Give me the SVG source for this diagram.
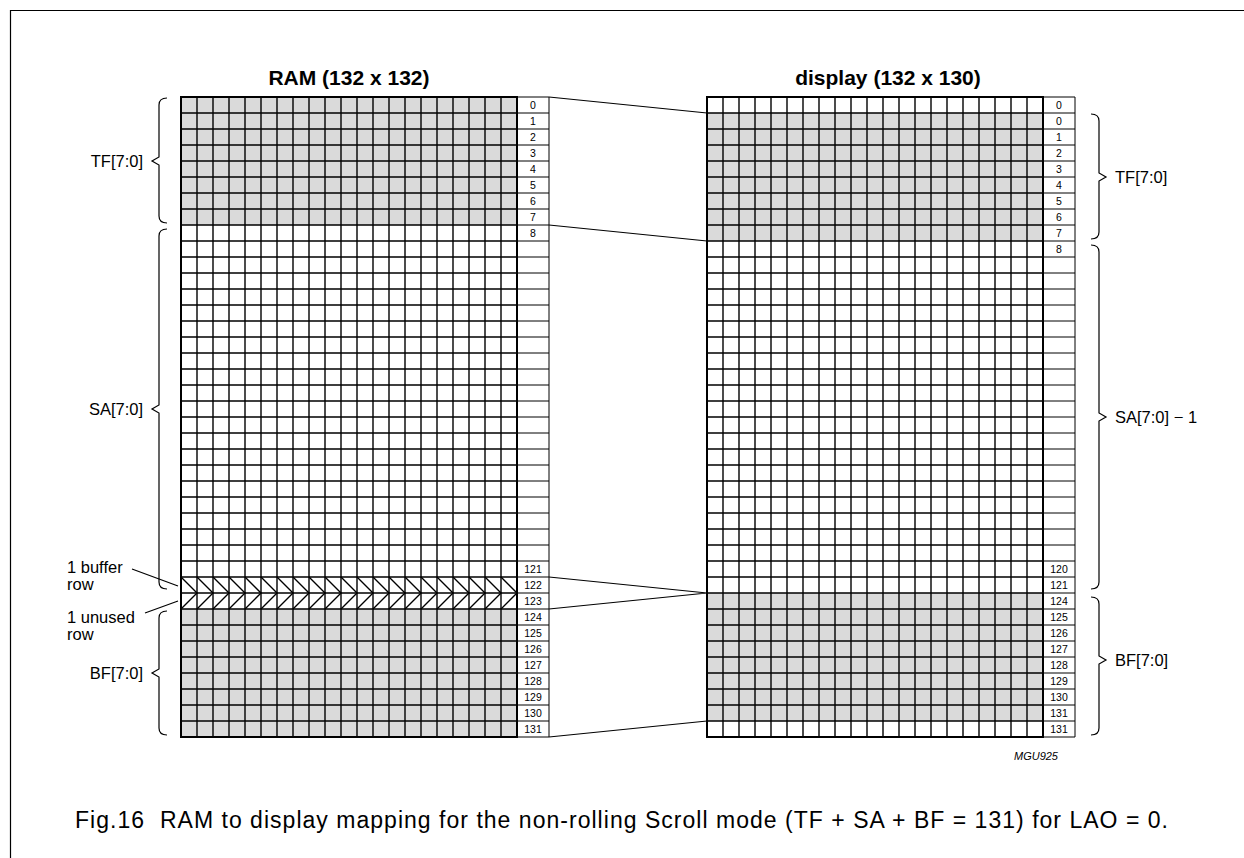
<svg xmlns="http://www.w3.org/2000/svg" xmlns:xlink="http://www.w3.org/1999/xlink" width="1244" height="858" viewBox="0 0 1244 858">
<style>
text{font-family:"Liberation Sans",Arial,sans-serif;fill:#000}
.title{font-size:21px;font-weight:bold;text-anchor:middle}
.lbl{font-size:16.5px}
.num{font-size:10.5px;text-anchor:middle}
.gray{fill:#dadada;stroke:none}
.grid{fill:none;stroke:#000;stroke-width:1.4}
.lcol{fill:none;stroke:#000;stroke-width:1}
.brace{fill:none;stroke:#000;stroke-width:1.2}
.conn{fill:none;stroke:#000;stroke-width:1.2}
.chev{fill:none;stroke:#000;stroke-width:1.4}
.cap{font-size:23px;white-space:pre}
</style>
<defs>
<g id="gridlines">
<path class="grid" d="M0 0V640M16 0V640M32 0V640M48 0V640M64 0V640M80 0V640M96 0V640M112 0V640M128 0V640M144 0V640M160 0V640M176 0V640M192 0V640M208 0V640M224 0V640M240 0V640M256 0V640M272 0V640M288 0V640M304 0V640M320 0V640M336 0V640"/>
<path class="grid" d="M0 0H336M0 16H336M0 32H336M0 48H336M0 64H336M0 80H336M0 96H336M0 112H336M0 128H336M0 144H336M0 160H336M0 176H336M0 192H336M0 208H336M0 224H336M0 240H336M0 256H336M0 272H336M0 288H336M0 304H336M0 320H336M0 336H336M0 352H336M0 368H336M0 384H336M0 400H336M0 416H336M0 432H336M0 448H336M0 464H336M0 480H336M0 496H336M0 512H336M0 528H336M0 544H336M0 560H336M0 576H336M0 592H336M0 608H336M0 624H336M0 640H336"/>
<path class="lcol" d="M368 0V640M336 0H368M336 16H368M336 32H368M336 48H368M336 64H368M336 80H368M336 96H368M336 112H368M336 128H368M336 144H368M336 160H368M336 176H368M336 192H368M336 208H368M336 224H368M336 240H368M336 256H368M336 272H368M336 288H368M336 304H368M336 320H368M336 336H368M336 352H368M336 368H368M336 384H368M336 400H368M336 416H368M336 432H368M336 448H368M336 464H368M336 480H368M336 496H368M336 512H368M336 528H368M336 544H368M336 560H368M336 576H368M336 592H368M336 608H368M336 624H368M336 640H368"/>
<rect x="0" y="0" width="336" height="640" fill="none" stroke="#000" stroke-width="2"/>
</g>
</defs>

<path d="M10.5 858V10.5H1244" fill="none" stroke="#000" stroke-width="1.2"/>

<text class="title" x="349" y="85">RAM (132 x 132)</text>
<text class="title" x="888" y="85">display (132 x 130)</text>

<g id="ram">
<rect class="gray" x="181" y="97" width="336" height="128"/>
<rect class="gray" x="181" y="609" width="336" height="128"/>
<use xlink:href="#gridlines" x="181" y="97"/>
<path class="chev" d="M181 577l16 16l-16 16M197 577l16 16l-16 16M213 577l16 16l-16 16M229 577l16 16l-16 16M245 577l16 16l-16 16M261 577l16 16l-16 16M277 577l16 16l-16 16M293 577l16 16l-16 16M309 577l16 16l-16 16M325 577l16 16l-16 16M341 577l16 16l-16 16M357 577l16 16l-16 16M373 577l16 16l-16 16M389 577l16 16l-16 16M405 577l16 16l-16 16M421 577l16 16l-16 16M437 577l16 16l-16 16M453 577l16 16l-16 16M469 577l16 16l-16 16M485 577l16 16l-16 16M501 577l16 16l-16 16"/>
<g class="nums">
<text class="num" x="533" y="109">0</text>
<text class="num" x="533" y="125">1</text>
<text class="num" x="533" y="141">2</text>
<text class="num" x="533" y="157">3</text>
<text class="num" x="533" y="173">4</text>
<text class="num" x="533" y="189">5</text>
<text class="num" x="533" y="205">6</text>
<text class="num" x="533" y="221">7</text>
<text class="num" x="533" y="237">8</text>
<text class="num" x="533" y="573">121</text>
<text class="num" x="533" y="589">122</text>
<text class="num" x="533" y="605">123</text>
<text class="num" x="533" y="621">124</text>
<text class="num" x="533" y="637">125</text>
<text class="num" x="533" y="653">126</text>
<text class="num" x="533" y="669">127</text>
<text class="num" x="533" y="685">128</text>
<text class="num" x="533" y="701">129</text>
<text class="num" x="533" y="717">130</text>
<text class="num" x="533" y="733">131</text>
</g>
</g>

<g id="display">
<rect class="gray" x="707" y="113" width="336" height="128"/>
<rect class="gray" x="707" y="593" width="336" height="128"/>
<use xlink:href="#gridlines" x="707" y="97"/>
<text class="num" x="1059" y="109">0</text>
<text class="num" x="1059" y="125">0</text>
<text class="num" x="1059" y="141">1</text>
<text class="num" x="1059" y="157">2</text>
<text class="num" x="1059" y="173">3</text>
<text class="num" x="1059" y="189">4</text>
<text class="num" x="1059" y="205">5</text>
<text class="num" x="1059" y="221">6</text>
<text class="num" x="1059" y="237">7</text>
<text class="num" x="1059" y="253">8</text>
<text class="num" x="1059" y="573">120</text>
<text class="num" x="1059" y="589">121</text>
<text class="num" x="1059" y="605">124</text>
<text class="num" x="1059" y="621">125</text>
<text class="num" x="1059" y="637">126</text>
<text class="num" x="1059" y="653">127</text>
<text class="num" x="1059" y="669">128</text>
<text class="num" x="1059" y="685">129</text>
<text class="num" x="1059" y="701">130</text>
<text class="num" x="1059" y="717">131</text>
<text class="num" x="1059" y="733">131</text>
</g>

<g id="connectors">
<path class="conn" d="M549 97L707 113M549 225L707 241M549 577L707 593M549 609L707 593M549 737L707 721"/>
<path class="conn" d="M132 569L178 586M145 613L178 601"/>
</g>

<g id="left-braces">
<path class="brace" d="M167 98Q159 98 159 105V157L152 161L159 165V216Q159 223 167 223"/>
<path class="brace" d="M167 229Q159 229 159 236V405L152 409L159 413V582Q159 589 167 589"/>
<path class="brace" d="M167 611Q159 611 159 618V669L152 673L159 677V728Q159 735 167 735"/>
<text class="lbl" x="143" y="167" text-anchor="end">TF[7:0]</text>
<text class="lbl" x="143" y="415" text-anchor="end">SA[7:0]</text>
<text class="lbl" x="143" y="679" text-anchor="end">BF[7:0]</text>
<text class="lbl" x="67" y="573">1 buffer</text>
<text class="lbl" x="67" y="590">row</text>
<text class="lbl" x="67" y="623">1 unused</text>
<text class="lbl" x="67" y="640">row</text>
</g>

<g id="right-braces">
<path class="brace" d="M1091 114Q1099 114 1099 121V173L1106 177L1099 181V232Q1099 239 1091 239"/>
<path class="brace" d="M1091 245Q1099 245 1099 252V413L1106 417L1099 421V582Q1099 589 1091 589"/>
<path class="brace" d="M1091 597Q1099 597 1099 604V656L1106 660L1099 664V728Q1099 735 1091 735"/>
<text class="lbl" x="1115" y="183">TF[7:0]</text>
<text class="lbl" x="1115" y="423">SA[7:0] − 1</text>
<text class="lbl" x="1115" y="666">BF[7:0]</text>
</g>

<text x="1058" y="760" font-size="11" font-style="italic" text-anchor="end">MGU925</text>
<text class="cap" x="75" y="828" textLength="1093" lengthAdjust="spacing">Fig.16  RAM to display mapping for the non-rolling Scroll mode (TF + SA + BF = 131) for LAO = 0.</text>
</svg>
